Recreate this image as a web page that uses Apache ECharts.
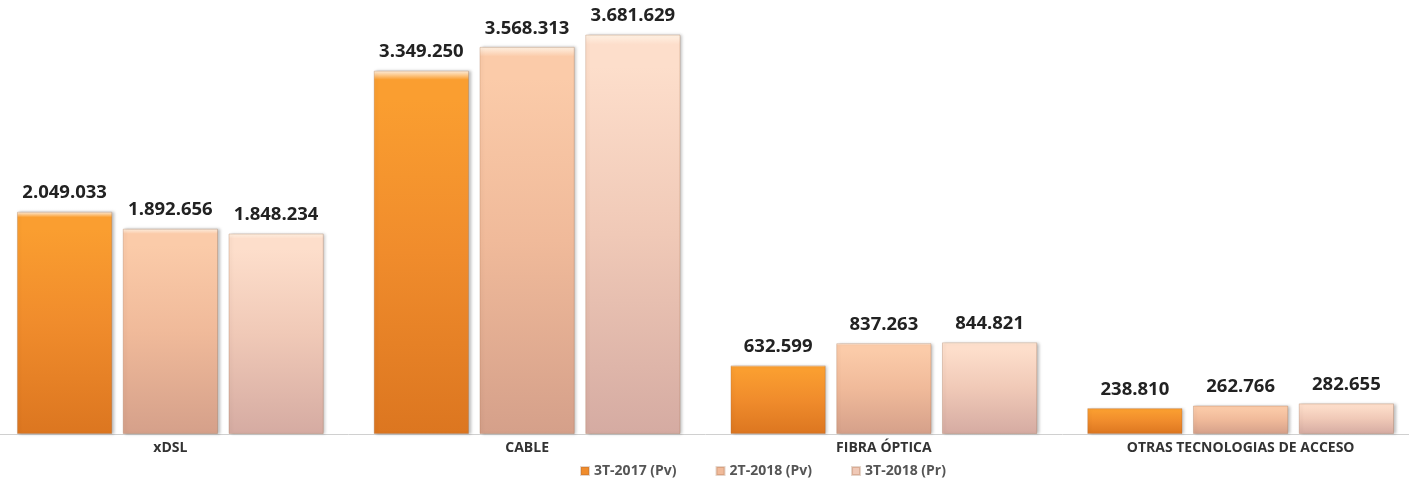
<!DOCTYPE html>
<html><head><meta charset="utf-8">
<script src="https://cdn.jsdelivr.net/npm/echarts@6/dist/echarts.min.js"></script>
<style>html,body{margin:0;padding:0;background:#fff;overflow:hidden;width:1409px;height:478px;}#c{width:1427px;height:478px;margin-left:-8px;}</style>
</head><body><div id="c"></div>
<script>
const categories = ['xDSL', 'CABLE', 'FIBRA ÓPTICA', 'OTRAS TECNOLOGIAS DE ACCESO'];
const seriesNames = ['3T-2017 (Pv)', '2T-2018 (Pv)', '3T-2018 (Pr)'];
const s3T2017 = [2049033, 3349250, 632599, 238810];
const s2T2018 = [1892656, 3568313, 837263, 262766];
const s3T2018 = [1848234, 3681629, 844821, 282655];

const grads = [
  ['#FA9E30', '#F08C2C', '#DC7620'],
  ['#FBCBA9', '#F0BA9A', '#D5A08A'],
  ['#FDDECB', '#F0C9B7', '#D5ABA2']
];
function grad(c){
  return new echarts.graphic.LinearGradient(0,0,0,1,[
    {offset:0,color:'#FFF2E4'},{offset:0.025,color:c[0]},{offset:0.08,color:c[0]},{offset:0.5,color:c[1]},{offset:1,color:c[2]}
  ]);
}
const fmt = v => v.toLocaleString('de-DE');
const data = [s3T2017, s2T2018, s3T2018];
const chart = echarts.init(document.getElementById('c'));
chart.setOption({
  animation:false,
  backgroundColor:'#fff',
  grid:{left:0, right:0, top:0, bottom:44},
  legend:{
    top:459, left:583, itemWidth:8, itemHeight:8, itemGap:39, icon:'rect',
    textStyle:{fontFamily:'Open Sans', fontWeight:'bold', fontSize:14, color:'#555'},
    data: seriesNames.map((n,i)=>({name:n, itemStyle:{color:grads[i][1]}}))
  },
  xAxis:{type:'category', data:categories,
    axisLine:{lineStyle:{color:'#d0d0d0', width:1}}, axisTick:{show:false},
    axisLabel:{fontFamily:'Open Sans', fontWeight:'bold', fontSize:14, color:'#333', margin:7}},
  yAxis:{type:'value', min:0, max:4000000, show:false, splitLine:{show:false}},
  series: data.map((d,i)=>({
    name:seriesNames[i], type:'bar', data:d,
    barGap:'11%', barCategoryGap:'14%',
    itemStyle:{color:grad(grads[i]), borderColor:'rgba(150,90,50,0.25)', borderWidth:1,
      shadowColor:'rgba(0,0,0,0.25)', shadowBlur:3, shadowOffsetX:2, shadowOffsetY:0},
    label:{show:true, position:'top', distance:9, formatter:p=>fmt(p.value),
      fontFamily:'Open Sans', fontWeight:'bold', fontSize:18.5, color:'#222'}
  }))
});
</script></body></html>
